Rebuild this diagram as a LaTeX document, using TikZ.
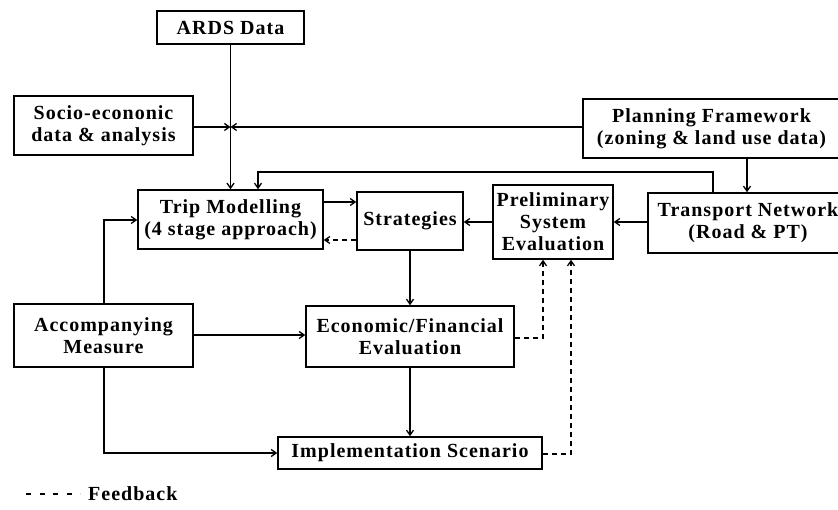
\documentclass[tikz,border=0pt]{standalone}
\usepackage{fontspec}
\setmainfont{Liberation Serif}[LetterSpace=5]
\usetikzlibrary{arrows.meta}
\begin{document}
\begin{tikzpicture}[x=1pt,y=-1pt,
  box/.style={draw, line width=1.5pt, inner sep=0pt, align=center,
    font=\fontsize{20}{22}\selectfont\bfseries},
  conn/.style={line width=1.3pt, -{Straight Barb[length=5pt,width=7pt]}},
  fb/.style={conn, dash pattern=on 5pt off 4pt}]
\useasboundingbox (0,0) rectangle (838,510);

\node[box, minimum width=147pt, minimum height=33pt] (ards) at (230.5,27.5) {ARDS Data};
\node[box, minimum width=179pt, minimum height=59pt] (socio) at (103.5,125.5) {Socio-econonic\\data \& analysis};
\node[box, minimum width=257pt, minimum height=59pt] (plan) at (711.5,128.5) {Planning Framework\\(zoning \& land use data)};
\node[box, minimum width=185pt, minimum height=59pt] (trip) at (230.5,219.5) {Trip Modelling\\(4 stage approach)};
\node[box, minimum width=106pt, minimum height=58pt] (strat) at (410,221) {Strategies};
\node[box, minimum width=120pt, minimum height=74pt] (prel) at (553,222) {Preliminary\\System\\Evaluation};
\node[box, minimum width=200pt, minimum height=60pt] (trans) at (748,223) {Transport Network\\(Road \& PT)};
\node[box, minimum width=179pt, minimum height=63pt] (acc) at (103.5,335.5) {Accompanying\\Measure};
\node[box, minimum width=208pt, minimum height=61pt] (econ) at (410,336.5) {Economic/Financial\\Evaluation};
\node[box, minimum width=264pt, minimum height=32pt] (impl) at (410,453) {Implementation Scenario};

\coordinate (J) at (230.5,127);
\coordinate (topL) at (258,172);
\coordinate (topR) at (713,172);
\coordinate (pt) at (747,0);
\coordinate (y1) at (0,202);
\coordinate (y2) at (0,240);
\coordinate (y3) at (0,222);
\coordinate (y4) at (0,335);
\coordinate (ac1) at (104,220);
\coordinate (ac2) at (104,453);
\coordinate (d1) at (543,338);
\coordinate (d2) at (571,454);

\draw[conn] (ards.south) -- (trip.north);
\draw[conn] (socio.east |- J) -- (J);
\draw[conn] (plan.west |- J) -- (J);
\draw[conn] (trans.north -| topR) -- (topR) -- (topL) -- (trip.north -| topL);
\draw[conn] (plan.south -| pt) -- (trans.north -| pt);
\draw[conn] (trip.east |- y1) -- (strat.west |- y1);
\draw[fb] (strat.west |- y2) -- (trip.east |- y2);
\draw[conn] (prel.west |- y3) -- (strat.east |- y3);
\draw[conn] (trans.west |- y3) -- (prel.east |- y3);
\draw[conn] (strat.south) -- (econ.north);
\draw[conn] (acc.north -| ac1) -- (ac1) -- (trip.west |- ac1);
\draw[conn] (acc.east |- y4) -- (econ.west |- y4);
\draw[conn] (acc.south -| ac2) -- (ac2) -- (impl.west |- ac2);
\draw[conn] (econ.south) -- (impl.north);
\draw[fb] (econ.east |- d1) -- (d1) -- (prel.south -| d1);
\draw[fb] (impl.east |- d2) -- (d2) -- (prel.south -| d2);

\coordinate (lg1) at (26,494);
\coordinate (lg2) at (80,494);
\draw[line width=1.2pt, dash pattern=on 5pt off 8.5pt] (lg1) -- (lg2);
\node[anchor=west, inner sep=0pt, font=\fontsize{20}{22}\selectfont\bfseries] (legend) at (88,494) {Feedback};
\end{tikzpicture}
\end{document}
